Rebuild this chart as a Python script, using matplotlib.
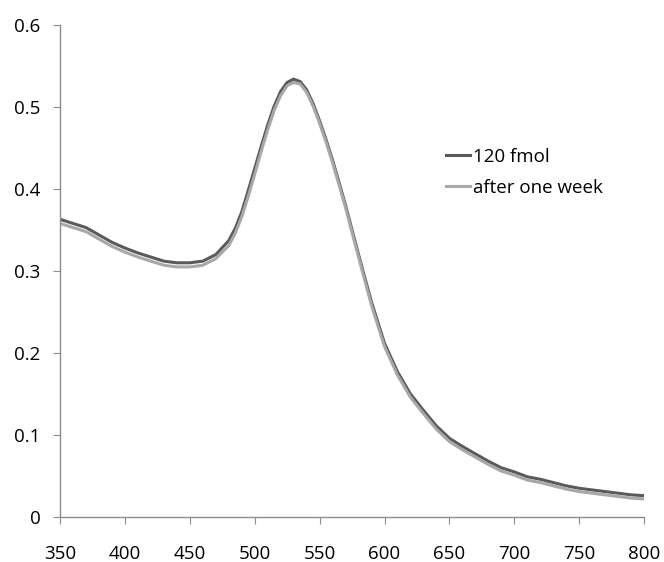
import matplotlib
matplotlib.use("Agg")
import matplotlib.pyplot as plt

# wavelength (nm) and absorbance
wavelength = [350, 360, 370, 380, 390, 400, 410, 420, 430, 440, 450, 460, 470,
              480, 485, 490, 495, 500, 505, 510, 515, 520, 525, 530, 535, 540,
              545, 550, 555, 560, 565, 570, 575, 580, 590, 600, 610, 620, 630,
              640, 650, 660, 670, 680, 690, 700, 710, 720, 730, 740, 750, 760,
              770, 780, 790, 800]
fmol_120 = [0.363, 0.358, 0.353, 0.344, 0.335, 0.328, 0.322, 0.317, 0.312, 0.310,
            0.310, 0.312, 0.320, 0.337, 0.352, 0.372, 0.398, 0.425, 0.452, 0.478,
            0.501, 0.519, 0.530, 0.534, 0.531, 0.521, 0.504, 0.483, 0.460, 0.435,
            0.408, 0.380, 0.350, 0.320, 0.262, 0.212, 0.177, 0.150, 0.130, 0.111,
            0.096, 0.086, 0.077, 0.068, 0.060, 0.055, 0.049, 0.046, 0.042, 0.038,
            0.035, 0.033, 0.031, 0.029, 0.027, 0.026]
one_week = [0.358, 0.353, 0.348, 0.339, 0.330, 0.323, 0.317, 0.312, 0.307, 0.305,
            0.305, 0.307, 0.315, 0.331, 0.346, 0.366, 0.391, 0.418, 0.446, 0.472,
            0.496, 0.514, 0.526, 0.530, 0.528, 0.518, 0.501, 0.480, 0.457, 0.432,
            0.405, 0.377, 0.347, 0.317, 0.258, 0.208, 0.173, 0.146, 0.126, 0.107,
            0.092, 0.082, 0.073, 0.064, 0.056, 0.051, 0.045, 0.042, 0.038, 0.034,
            0.031, 0.029, 0.027, 0.025, 0.023, 0.022]

x_ticks = [350, 400, 450, 500, 550, 600, 650, 700, 750, 800]
y_ticks = [0, 0.1, 0.2, 0.3, 0.4, 0.5, 0.6]
y_labels = ["0", "0.1", "0.2", "0.3", "0.4", "0.5", "0.6"]

plt.rcParams['font.family'] = ['Open Sans', 'DejaVu Sans']

fig = plt.figure(figsize=(6.64, 5.62), dpi=100)
ax = fig.add_axes([0.0904, 0.0801, 0.8796, 0.8754])

ax.plot(wavelength, fmol_120, color='#5a5a5a', lw=2.2, label='120 fmol',
        solid_joinstyle='round')
ax.plot(wavelength, one_week, color='#a8a8a8', lw=2.2, label='after one week',
        solid_joinstyle='round')

ax.set_xlim(350, 800)
ax.set_ylim(0, 0.6)
ax.set_xticks(x_ticks)
ax.set_yticks(y_ticks)
ax.set_yticklabels(y_labels)

for side in ['top', 'right']:
    ax.spines[side].set_visible(False)
for side in ['left', 'bottom']:
    ax.spines[side].set_color('#8c8c8c')
    ax.spines[side].set_linewidth(1.0)

ax.tick_params(axis='both', direction='out', length=5, color='#8c8c8c',
               labelsize=13.5, labelcolor='black')
ax.tick_params(axis='x', pad=15)
ax.tick_params(axis='y', pad=9)

ax.legend(loc='upper left', bbox_to_anchor=(0.644, 0.77), frameon=False,
          fontsize=13.5, handlelength=1.3, handletextpad=0.15, labelspacing=0.7,
          borderpad=0)

fig.savefig('out.png', dpi=100, facecolor='white')
